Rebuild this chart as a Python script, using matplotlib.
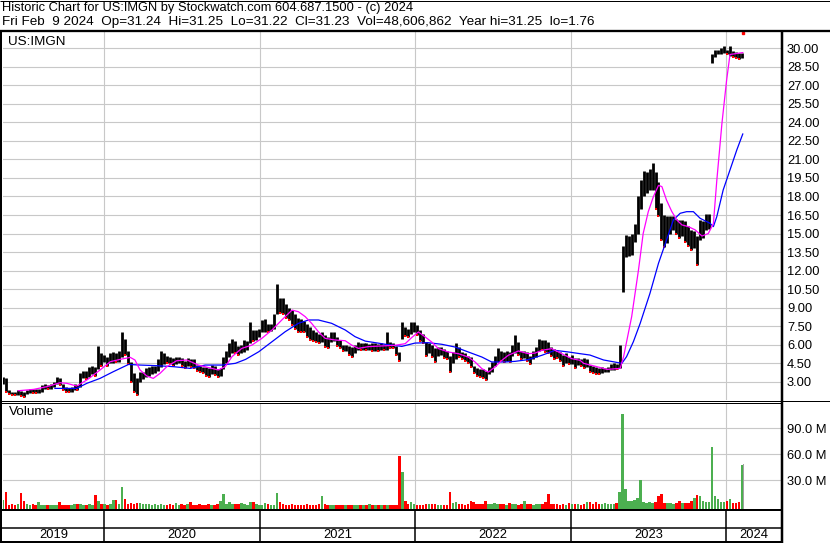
import numpy as np
import pandas as pd
import matplotlib
matplotlib.use("Agg")
import matplotlib.pyplot as plt
from matplotlib.lines import Line2D

plt.rcParams['font.family'] = ['Liberation Sans', 'DejaVu Sans']

W, H = 830, 543

# weekly price ranges (week starting Monday)
first_week = "2019-05-06"
week_low = [
    2.85, 2.15, 2.00, 1.95, 1.90, 1.95, 1.85, 1.76, 2.00, 2.10,
    2.10, 2.05, 2.10, 2.20, 2.45, 2.40, 2.45, 2.55, 2.80, 2.75,
    2.30, 2.20, 2.15, 2.20, 2.30, 2.30, 2.60, 3.30, 3.20, 3.40,
    3.60, 3.50, 4.00, 4.30, 4.60, 4.30, 4.50, 4.50, 4.60, 4.60,
    5.00, 5.20, 4.40, 3.00, 2.20, 1.95, 3.00, 3.20, 3.40, 3.50,
    3.60, 3.70, 3.90, 4.20, 4.40, 4.50, 4.40, 4.30, 4.40, 4.50,
    4.30, 4.10, 4.30, 4.20, 4.10, 3.90, 3.75, 3.70, 3.50, 3.40,
    3.60, 3.55, 3.40, 3.50, 4.00, 4.50, 5.00, 5.30, 5.30, 5.20,
    5.30, 5.40, 5.60, 6.10, 6.30, 6.40, 6.60, 7.00, 7.05, 7.00,
    7.10, 7.30, 8.50, 8.60, 8.50, 8.20, 8.00, 7.60, 7.30, 7.05,
    7.00, 7.00, 6.60, 6.40, 6.30, 6.20, 6.10, 6.20, 5.80, 5.70,
    6.25, 6.30, 5.90, 5.70, 5.45, 5.45, 5.20, 5.00, 5.30, 5.60,
    5.60, 5.60, 5.55, 5.60, 5.50, 5.50, 5.50, 5.60, 5.55, 5.60,
    5.70, 5.70, 5.20, 4.70, 6.50, 6.70, 6.60, 6.90, 7.00, 6.80,
    6.30, 6.10, 5.10, 5.30, 5.00, 4.60, 5.10, 5.20, 4.90, 4.85,
    3.80, 4.50, 4.85, 5.00, 4.80, 4.70, 4.50, 4.20, 3.70, 3.50,
    3.40, 3.30, 3.10, 3.60, 3.80, 4.30, 4.60, 4.70, 4.60, 4.70,
    4.60, 5.10, 5.30, 5.20, 4.85, 4.90, 4.70, 4.45, 4.80, 5.00,
    5.50, 5.55, 5.40, 5.30, 5.10, 4.85, 4.90, 4.70, 4.30, 4.50,
    4.40, 4.40, 4.10, 4.35, 4.30, 4.10, 4.20, 3.80, 3.70, 3.60,
    3.65, 3.70, 3.75, 3.80, 3.95, 3.95, 4.00, 4.10, 10.30, 13.10,
    13.20, 13.30, 14.30, 15.00, 17.00, 18.00, 18.30, 18.50, 18.50, 17.00,
    16.40, 14.50, 13.90, 14.20, 15.00, 15.30, 15.00, 14.60, 14.80, 14.30,
    14.00, 13.70, 13.80, 12.45, 14.50, 14.60, 15.30, 15.40, 28.80, 29.30,
    29.50, 29.50, 29.60, 29.50, 29.40, 29.30, 29.20, 29.10, 29.20,
]
week_high = [
    3.40, 3.30, 2.30, 2.20, 2.15, 2.30, 2.25, 2.20, 2.35, 2.45,
    2.40, 2.40, 2.45, 2.70, 2.85, 2.75, 2.80, 3.00, 3.40, 3.30,
    2.80, 2.55, 2.50, 2.55, 2.80, 2.75, 3.70, 3.90, 3.85, 4.20,
    4.30, 4.20, 5.90, 5.30, 5.20, 5.00, 5.30, 5.40, 5.30, 5.50,
    7.00, 6.50, 5.50, 4.60, 3.70, 3.30, 3.80, 3.80, 4.10, 4.20,
    4.30, 4.30, 4.80, 5.45, 5.30, 5.10, 5.00, 4.90, 5.00, 5.00,
    4.90, 4.70, 4.90, 4.85, 4.80, 4.35, 4.30, 4.20, 4.20, 4.10,
    4.35, 4.30, 4.00, 4.10, 5.00, 5.50, 6.10, 6.50, 6.30, 5.90,
    6.00, 6.40, 6.30, 7.80, 7.20, 7.20, 7.30, 8.00, 8.10, 7.70,
    7.70, 8.50, 10.90, 9.80, 9.75, 9.30, 9.00, 8.80, 8.50, 8.20,
    8.10, 7.90, 7.70, 7.40, 7.20, 7.05, 6.90, 7.00, 6.80, 6.60,
    7.05, 7.00, 6.65, 6.40, 5.95, 5.95, 5.90, 5.80, 5.95, 6.20,
    6.10, 6.15, 6.10, 6.05, 6.10, 6.10, 6.05, 6.10, 6.05, 7.00,
    6.20, 6.10, 5.90, 5.40, 7.80, 7.40, 7.30, 7.80, 7.80, 7.60,
    7.15, 6.90, 6.20, 6.10, 6.00, 5.70, 5.80, 5.80, 5.65, 5.50,
    5.10, 5.40, 6.10, 5.80, 5.40, 5.30, 5.10, 5.00, 4.30, 4.10,
    4.05, 4.00, 3.90, 4.20, 4.60, 5.10, 5.70, 5.50, 5.40, 5.50,
    5.40, 6.00, 6.75, 6.20, 5.50, 5.50, 5.40, 5.10, 5.50, 5.80,
    6.50, 6.40, 6.35, 6.20, 5.80, 5.65, 5.50, 5.40, 5.20, 5.30,
    5.00, 5.16, 4.90, 4.90, 4.85, 4.90, 4.80, 4.35, 4.30, 4.20,
    4.10, 4.20, 4.15, 4.20, 4.40, 4.50, 4.40, 6.00, 14.00, 14.90,
    14.80, 15.00, 15.80, 18.00, 19.30, 20.10, 20.00, 20.20, 20.70, 20.00,
    19.20, 17.50, 16.50, 16.40, 16.40, 16.40, 16.20, 16.10, 16.10, 16.00,
    15.60, 15.30, 15.20, 14.80, 16.10, 16.00, 16.60, 16.60, 29.50, 29.90,
    29.90, 30.00, 30.15, 29.90, 30.20, 29.80, 29.70, 29.60, 29.60,
]
# weekly volume, millions
week_vol = [
    7, 17, 2, 3, 2, 2.5, 15, 6, 3, 2,
    2.5, 2, 4.6, 2, 1.5, 2, 2, 1.5, 2, 5,
    2, 1.5, 2, 2, 2.5, 3, 2.5, 2, 2, 2.5,
    2, 13, 6.5, 3, 2.5, 2, 2.5, 7.7, 7, 3,
    22, 8, 3, 4, 3, 4, 4, 2.5, 3, 2.5,
    2, 3, 2, 2.5, 2, 2, 3, 2, 4, 2,
    2.5, 2, 2.5, 4.6, 2, 2, 2.5, 2, 2, 2.5,
    2, 2, 2.5, 6, 14, 3, 5, 2.5, 3, 2.5,
    4, 2.5, 2, 5, 5, 2.5, 2, 2, 4, 2.5,
    2, 2, 15.4, 4.6, 2.5, 2, 2, 2.5, 2, 2,
    1.5, 2, 2.5, 2, 2, 2, 2.5, 11.5, 2.7, 2,
    2, 1.5, 2, 2, 1.5, 2, 2, 2, 1.5, 2,
    2, 1.5, 2, 3.2, 2, 2, 1.5, 1.5, 2, 2,
    1.5, 2, 2, 58.5, 40, 6.5, 3, 5, 2.5, 2,
    2, 2, 2.5, 3, 3, 2.5, 2, 2, 2, 2,
    16.5, 4, 4.5, 3, 2.5, 2, 2.5, 6, 5, 3,
    2.5, 2.5, 6, 3, 2.5, 4, 2.5, 3, 2.5, 2,
    4, 3, 2.5, 2, 2.5, 6, 3, 2.5, 2, 3,
    2.5, 3, 4.6, 14, 3, 2.5, 2.5, 2, 2.5, 2,
    4, 2.5, 3, 2.5, 2, 3, 4.6, 5, 3, 5,
    3, 3, 3.5, 2.5, 3, 3, 3.5, 16.5, 106.6, 20,
    6.5, 6, 7.7, 9.6, 30, 5, 4, 5, 4, 5,
    12.3, 14.6, 4, 3.5, 4, 3, 3.5, 6, 3.5, 4,
    4, 6, 10, 12.7, 11.5, 6.5, 4.5, 5, 68.5, 11.5,
    8.5, 4.5, 5, 6.5, 8.5, 4, 3.5, 5, 47.5,
]

# last trading day from the header
last_day = "2024-02-09"
last_open, last_high, last_low, last_close = 31.24, 31.25, 31.22, 31.23
last_vol = 48.606862
year_hi, year_lo = 31.25, 1.76

# moving averages
ma_short_dates = [
    "2019-06-13", "2019-07-19", "2019-08-19", "2019-09-19", "2019-10-05", "2019-10-28",
    "2019-11-21", "2019-12-22", "2020-01-15", "2020-02-07", "2020-03-02", "2020-03-13",
    "2020-03-25", "2020-04-10", "2020-04-25", "2020-05-11", "2020-05-27", "2020-06-19",
    "2020-07-13", "2020-08-09", "2020-09-25", "2020-10-11", "2020-10-27", "2020-11-19",
    "2020-12-13", "2021-01-05", "2021-01-29", "2021-02-21", "2021-03-17", "2021-04-01",
    "2021-04-17", "2021-05-02", "2021-05-18", "2021-06-03", "2021-06-26", "2021-07-20",
    "2021-08-04", "2021-08-20", "2021-09-12", "2021-10-10", "2021-11-14", "2021-12-08",
    "2021-12-23", "2022-01-08", "2022-01-24", "2022-02-08", "2022-02-24", "2022-03-19",
    "2022-04-12", "2022-05-05", "2022-05-21", "2022-06-06", "2022-06-21", "2022-07-07",
    "2022-07-23", "2022-08-07", "2022-08-31", "2022-09-23", "2022-10-09", "2022-10-25",
    "2022-11-17", "2022-12-11", "2023-01-03", "2023-01-23", "2023-01-31", "2023-03-03",
    "2023-03-27", "2023-04-27", "2023-05-05", "2023-05-24", "2023-06-09", "2023-06-20",
    "2023-07-02", "2023-07-14", "2023-07-26", "2023-08-03", "2023-08-14", "2023-08-26",
    "2023-09-07", "2023-09-19", "2023-10-04", "2023-10-20", "2023-11-05", "2023-11-20",
    "2023-12-02", "2023-12-10", "2023-12-22", "2024-01-02", "2024-01-10", "2024-02-09",
]
ma_short = [
    2.27, 2.38, 2.60, 2.92, 2.87, 2.65,
    3.14, 3.95, 4.62, 4.81, 4.97, 4.76,
    3.95, 3.46, 3.27, 3.68, 4.22, 4.70,
    4.76, 4.35, 3.95, 4.22, 5.03, 5.70,
    5.97, 6.51, 7.19, 8.00, 8.80, 8.67,
    8.27, 7.73, 7.05, 6.51, 6.38, 6.32,
    5.97, 5.70, 5.84, 5.89, 5.95, 6.08,
    6.57, 7.03, 6.62, 6.22, 5.68, 5.41,
    5.27, 5.00, 4.60, 4.06, 3.78, 4.19,
    4.73, 5.14, 5.49, 5.27, 5.32, 5.54,
    5.68, 5.27, 4.87, 4.73, 4.49, 4.22,
    4.00, 4.08, 5.03, 8.27, 12.05, 15.00,
    16.77, 17.98, 18.90, 18.80, 17.70, 16.80,
    16.10, 15.70, 15.56, 15.30, 14.80, 15.00,
    15.80, 19.30, 23.90, 27.40, 29.50, 29.65,
]
ma_long_dates = [
    "2019-09-07", "2019-10-28", "2019-11-21", "2019-12-22", "2020-01-22", "2020-02-27",
    "2020-03-25", "2020-05-03", "2020-06-11", "2020-07-21", "2020-08-25", "2020-10-04",
    "2020-11-04", "2020-11-28", "2020-12-29", "2021-01-29", "2021-03-01", "2021-04-01",
    "2021-04-25", "2021-05-18", "2021-06-18", "2021-07-20", "2021-08-12", "2021-09-05",
    "2021-10-10", "2021-10-29", "2021-11-30", "2021-12-31", "2022-01-31", "2022-03-04",
    "2022-04-04", "2022-05-05", "2022-06-06", "2022-06-29", "2022-07-31", "2022-08-23",
    "2022-09-23", "2022-10-25", "2022-11-25", "2022-12-26", "2023-01-23", "2023-02-15",
    "2023-03-19", "2023-05-01", "2023-05-12", "2023-05-28", "2023-06-13", "2023-07-06",
    "2023-07-26", "2023-08-14", "2023-08-30", "2023-09-15", "2023-09-30", "2023-10-16",
    "2023-11-01", "2023-11-24", "2023-12-02", "2023-12-10", "2023-12-25", "2024-01-10",
    "2024-01-26", "2024-02-09",
]
ma_long = [
    2.46, 2.46, 2.87, 3.27, 3.81, 4.40,
    4.35, 4.30, 4.22, 4.08, 4.35, 4.35,
    4.49, 4.81, 5.43, 6.24, 7.05, 7.73,
    8.00, 8.00, 7.73, 7.19, 6.65, 6.29,
    6.10, 6.00, 5.86, 6.13, 6.16, 6.03,
    5.81, 5.41, 5.00, 4.60, 4.60, 4.65,
    4.79, 5.14, 5.54, 5.41, 5.27, 5.16,
    4.76, 4.49, 5.03, 6.24, 7.73, 10.16,
    12.59, 14.48, 16.10, 16.64, 16.77, 16.77,
    16.23, 15.83, 15.56, 16.37, 18.53, 20.15,
    21.77, 23.06,
]

price_ticks = [3.00, 4.50, 6.00, 7.50, 9.00, 10.50, 12.00, 13.50, 15.00, 16.50,
               18.00, 19.50, 21.00, 22.50, 24.00, 25.50, 27.00, 28.50, 30.00]
vol_ticks = [30, 60, 90]
years = [2019, 2020, 2021, 2022, 2023, 2024]

# ---------------------------------------------------------------------------
x_start = pd.Timestamp("2019-05-08")
x_end = pd.Timestamp("2024-05-10")
week_mid = pd.Timestamp(first_week) + pd.to_timedelta(np.arange(len(week_low)) * 7 + 2, unit="D")
lows = np.array(week_low)
highs = np.array(week_high)
mid = (lows + highs) / 2
down = np.r_[False, mid[1:] < mid[:-1]]

GRID = "#c8c8c8"
GREEN = "#4caf50"
RED = "#ff0000"
FS = 9.3    # axis labels
TFS = 9.7   # header / panel titles


def box(l, t, r, b):
    return [l / W, 1 - b / H, (r - l) / W, (b - t) / H]


def pline(x0, y0, x1, y1, px=1.0):
    fig.add_artist(Line2D([x0 / W, x1 / W], [1 - y0 / H, 1 - y1 / H],
                          transform=fig.transFigure, color="black",
                          lw=px * 0.72, solid_capstyle="butt"))


fig = plt.figure(figsize=(W / 100, H / 100), dpi=100)
ax = fig.add_axes(box(3, 32, 781.5, 400))
axv = fig.add_axes(box(3, 403, 781.5, 509.5), sharex=ax)
axd = fig.add_axes(box(3, 509.5, 781.5, 542.5), sharex=ax)

year_starts = [pd.Timestamp(f"{y}-01-01") for y in years]

for a in (ax, axv, axd):
    for s in a.spines.values():
        s.set_visible(False)
    a.set_xticks(year_starts[1:])
    a.tick_params(axis="x", length=0, labelbottom=False)

ax.set_xlim(x_start, x_end)

# price panel
ax.set_ylim(1.52, 31.32)
ax.yaxis.tick_right()
ax.set_yticks(price_ticks)
ax.set_yticklabels([f"{v:.2f}" for v in price_ticks])
ax.tick_params(axis="y", length=0, pad=4, labelsize=FS)
ax.grid(True, color=GRID, lw=0.8)
ax.set_axisbelow(True)

ax.vlines(week_mid, lows, highs, color="black", lw=2.0)
ax.scatter(week_mid[down], lows[down], marker="s", s=3, color=RED, lw=0, zorder=3)
ax.plot(pd.to_datetime(ma_long_dates), ma_long, color="#0000ff", lw=0.9, zorder=4)
ax.plot(pd.to_datetime(ma_short_dates), ma_short, color="#ff00ff", lw=0.9, zorder=4)
ax.plot(pd.Timestamp(last_day), last_close, marker="s", ms=1.8, color=RED, lw=0, zorder=5)

# volume panel
vol_floor = -3.7
axv.set_ylim(vol_floor, 119.2)
axv.yaxis.tick_right()
axv.set_yticks(vol_ticks)
axv.set_yticklabels([f"{v:.1f} M" for v in vol_ticks])
axv.tick_params(axis="y", length=0, pad=4, labelsize=FS)
axv.grid(True, color=GRID, lw=0.8)
axv.set_axisbelow(True)
vol = np.array(week_vol)
axv.bar(week_mid, vol - vol_floor, bottom=vol_floor, width=6,
        color=[RED if d else GREEN for d in down], lw=0)
axv.bar(pd.Timestamp(last_day), last_vol - vol_floor, bottom=vol_floor,
        width=4, align="edge", color="#a0a0a0", lw=0, zorder=3)

# date band
axd.set_ylim(0, 1)
axd.set_yticks([])
axd.vlines(year_starts[1:], 0, 1, color="black", lw=1.1)
for i, y in enumerate(years):
    a0 = max(year_starts[i], x_start)
    a1 = min(year_starts[i + 1], x_end) if i + 1 < len(years) else x_end
    axd.text(a0 + (a1 - a0) / 2, 0.24, str(y), ha="center", va="center", fontsize=FS)

# frame lines (pixel positions)
pline(0, 0.5, W, 0.5, 1)
pline(0, 30.5, W, 30.5, 2.3)
pline(0, 400.5, W, 400.5, 1)
pline(0, 403, 782, 403, 1)
pline(0, 510.3, 782, 510.3, 2)
pline(0, 527.5, 782, 527.5, 1.5)
pline(0, 542, 782, 542, 2)
pline(1, 30, 1, H, 2)
pline(782, 30, 782, H, 2.5)

# texts
fig.text(2 / W, 1 - 2.5 / H, "Historic Chart for US:IMGN by Stockwatch.com 604.687.1500 - (c) 2024",
         ha="left", va="top", fontsize=9.3)
fig.text(2 / W, 1 - 16.5 / H,
         f"Fri Feb  9 2024  Op={last_open:.2f}  Hi={last_high:.2f}  Lo={last_low:.2f}  "
         f"Cl={last_close:.2f}  Vol={last_vol * 1e6:,.0f}  Year hi={year_hi:.2f}  lo={year_lo:.2f}",
         ha="left", va="top", fontsize=TFS)
fig.text(8 / W, 1 - 36 / H, "US:IMGN", ha="left", va="top", fontsize=TFS)
fig.text(9 / W, 1 - 406 / H, "Volume", ha="left", va="top", fontsize=TFS)

fig.savefig("out.png", dpi=100)
